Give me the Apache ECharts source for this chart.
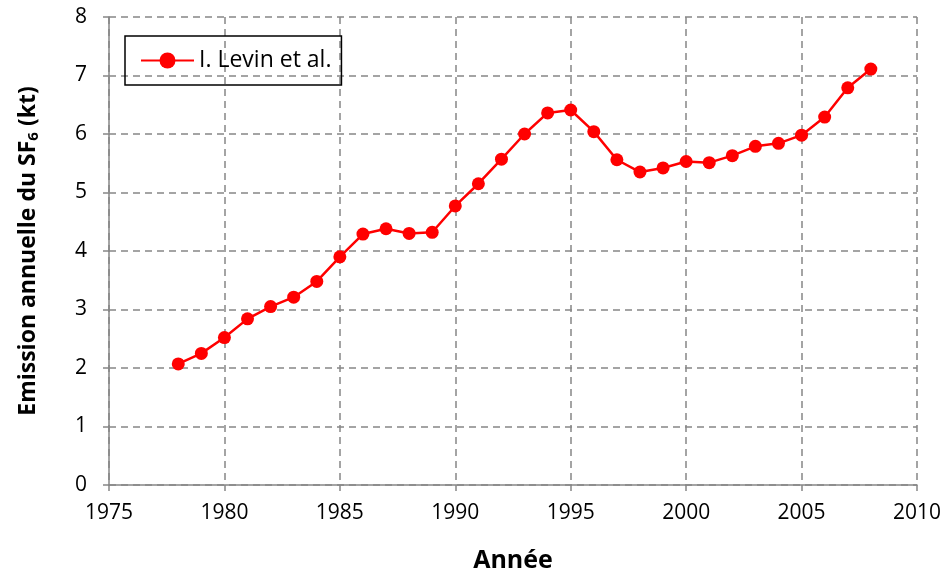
<!DOCTYPE html>
<html>
<head>
<meta charset="utf-8">
<script src="https://cdn.jsdelivr.net/npm/echarts@6/dist/echarts.min.js"></script>
<style>
    html, body { margin: 0; padding: 0; background: #fff; }
    #chart { width: 946px; height: 579px; }
</style>
</head>
<body>
<div id="chart"></div>
<script>
var years = [1978, 1979, 1980, 1981, 1982, 1983, 1984, 1985, 1986, 1987, 1988, 1989,
    1990, 1991, 1992, 1993, 1994, 1995, 1996, 1997, 1998, 1999, 2000, 2001, 2002,
    2003, 2004, 2005, 2006, 2007, 2008];
var emissions = [2.07, 2.25, 2.52, 2.84, 3.05, 3.21, 3.48, 3.90, 4.29, 4.38, 4.30, 4.32,
    4.77, 5.15, 5.57, 6.00, 6.36, 6.41, 6.04, 5.56, 5.35, 5.42, 5.53, 5.51, 5.63,
    5.79, 5.84, 5.98, 6.29, 6.79, 7.11];
var seriesName = "I. Levin et al.";
var xTitle = "Année";

var font = "'Open Sans', 'Noto Sans', sans-serif";
var gridColor = "#868686";

var myChart = echarts.init(document.getElementById("chart"));
var points = years.map(function(y, i) {
    return [y, emissions[i]];
});

var option = {
    backgroundColor: "#fff",
    animation: false,
    grid: {
        left: 109,
        right: 29,
        top: 17,
        bottom: 94
    },
    legend: {
        left: 125,
        top: 36,
        orient: "vertical",
        padding: [13, 10, 13, 15],
        borderColor: "#000",
        borderWidth: 1.5,
        itemWidth: 53,
        itemHeight: 20,
        textStyle: {
            fontFamily: font,
            fontSize: 23,
            color: "#000"
        },
        data: [seriesName]
    },
    xAxis: {
        type: "value",
        min: 1975,
        max: 2010,
        interval: 5,
        name: xTitle,
        nameLocation: "middle",
        nameGap: 63,
        nameTextStyle: {
            fontFamily: font,
            fontSize: 25,
            fontWeight: "bold",
            color: "#000"
        },
        axisLine: { lineStyle: { color: gridColor, width: 1.5 } },
        axisTick: { show: true, length: 6, lineStyle: { color: gridColor, width: 1.5 } },
        axisLabel: {
            margin: 18,
            fontFamily: font,
            fontSize: 21,
            color: "#000",
            formatter: function(v) { return String(v); }
        },
        splitLine: {
            show: true,
            lineStyle: { color: gridColor, width: 1.5, type: [7, 5] }
        }
    },
    yAxis: {
        type: "value",
        min: 0,
        max: 8,
        interval: 1,
        name: "{t|Emission annuelle du SF}{s|6}{t| (kt)}",
        nameLocation: "middle",
        nameGap: 68,
        nameTextStyle: {
            rich: {
                t: { fontFamily: font, fontSize: 23, fontWeight: "bold", color: "#000" },
                s: { fontFamily: font, fontSize: 15, fontWeight: "bold", color: "#000", padding: [10, 0, 0, 0] }
            }
        },
        axisLine: { show: true, lineStyle: { color: gridColor, width: 1.5 } },
        axisTick: { show: true, length: 6, lineStyle: { color: gridColor, width: 1.5 } },
        axisLabel: {
            margin: 22,
            fontFamily: font,
            fontSize: 21,
            color: "#000"
        },
        splitLine: {
            show: true,
            lineStyle: { color: gridColor, width: 1.5, type: [7, 5] }
        }
    },
    series: [{
        name: seriesName,
        type: "line",
        data: points,
        symbol: "circle",
        symbolSize: 13,
        itemStyle: { color: "#ff0000" },
        lineStyle: { color: "#ff0000", width: 2.5 }
    }]
};

myChart.setOption(option);
</script>
</body>
</html>
